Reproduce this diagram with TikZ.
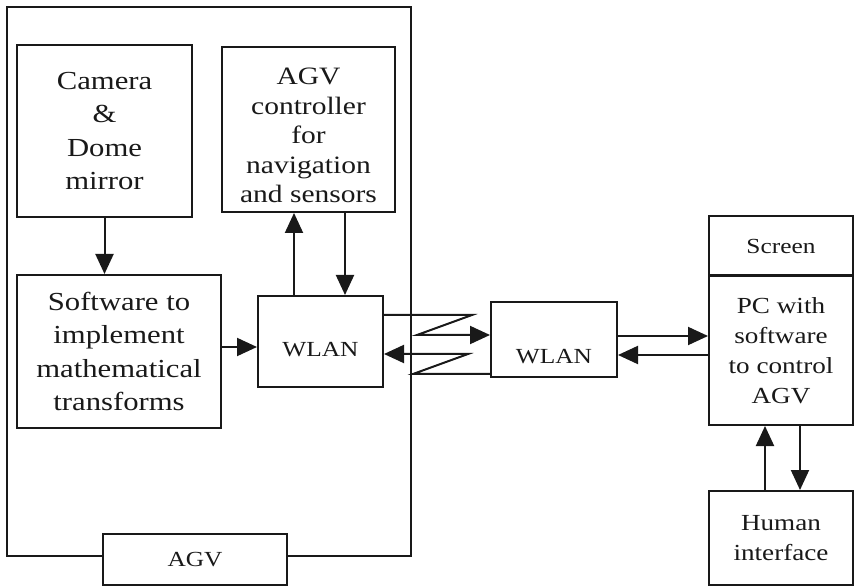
\documentclass[tikz,border=0pt]{standalone}
\usepackage{fontspec}
\setmainfont{Liberation Serif}[FakeStretch=1.18]
\usetikzlibrary{arrows.meta}
\begin{document}
\begin{tikzpicture}[x=1pt,y=-1pt,
  box/.style={draw=black!90, line width=2pt, align=center, inner sep=0pt, fill=white, text=black!90},
  big/.style={font=\fontsize{26}{33.5}\selectfont},
  mid/.style={font=\fontsize{23}{30}\selectfont},
  ctl/.style={font=\fontsize{25}{29.5}\selectfont},
  small/.style={font=\fontsize{21.5}{30}\selectfont},
  arr/.style={line width=2pt, draw=black!90, -{Triangle[length=20pt,width=18pt]}}]
\useasboundingbox (0,0) rectangle (855,588);
% AGV frame
\node[box, fill=none, minimum width=404pt, minimum height=549pt] (frame) at (209,281.5) {};
\node[box, small, minimum width=184pt, minimum height=51pt] (agv) at (195,559.5) {AGV};
% boxes inside AGV
\node[box, big, minimum width=175pt, minimum height=172pt] (camera) at (104.5,131) {Camera\\\&\\Dome\\mirror};
\node[box, ctl, minimum width=173pt, minimum height=165pt] (ctrl) at (308.5,129.5) {\rule{0pt}{29pt}AGV\\controller\\for\\navigation\\and sensors};
\node[box, big, minimum width=204pt, minimum height=153pt] (soft) at (119,351.5) {Software to\\implement\\mathematical\\transforms};
\node[box, small, minimum width=125pt, minimum height=91pt, text height=30pt, text depth=0pt] (wlan1) at (320.5,341.5) {WLAN};
% right side
\node[box, small, minimum width=126pt, minimum height=75pt, text height=48pt, text depth=0pt] (wlan2) at (554,339.5) {WLAN};
\node[box, small, minimum width=144pt, minimum height=59pt] (screen) at (781,246) {Screen};
\node[box, mid, minimum width=144pt, minimum height=149pt] (pc) at (781,350.5) {PC with\\software\\to control\\AGV};
\node[box, mid, minimum width=144pt, minimum height=94pt] (human) at (781,538) {Human\\interface};
% zigzag points
\coordinate (z1) at (472,315);
\coordinate (z2) at (417,335);
\coordinate (z3) at (468,354);
\coordinate (z4) at (413,374);
% arrows
\draw[arr] (camera.south) -- (camera.south |- soft.north);
\draw[arr] ([yshift=4.5pt]soft.east) -- ([yshift=4.5pt]soft.east -| wlan1.west);
\draw[arr] ([xshift=-26.5pt]wlan1.north) -- ([xshift=-26.5pt]wlan1.north |- ctrl.south);
\draw[arr] ([xshift=24.5pt]wlan1.north |- ctrl.south) -- ([xshift=24.5pt]wlan1.north);
\draw[arr] ([yshift=26.5pt]wlan1.east) -- ([yshift=26.5pt]wlan1.east -| z1) -- (z1) -- (z2) -- (z2 -| wlan2.west);
\draw[arr] (z4 -| wlan2.west) -- (z4) -- (z3) -- (z3 -| wlan1.east);
\draw[arr] ([yshift=3.5pt]wlan2.east) -- ([yshift=3.5pt]wlan2.east -| pc.west);
\draw[arr] ([yshift=-4.5pt]pc.west) -- ([yshift=-4.5pt]pc.west -| wlan2.east);
\draw[arr] ([xshift=-16pt]human.north) -- ([xshift=-16pt]human.north |- pc.south);
\draw[arr] ([xshift=19pt]pc.south) -- ([xshift=19pt]pc.south |- human.north);
\end{tikzpicture}
\end{document}
